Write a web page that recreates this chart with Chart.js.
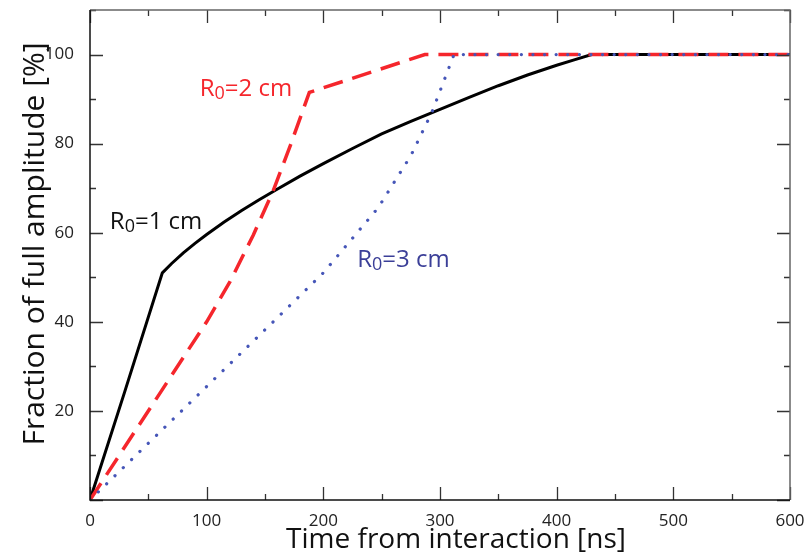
<!DOCTYPE html>
<html>
<head>
<meta charset="utf-8">
<script src="https://cdn.jsdelivr.net/npm/chart.js@4.4.0/dist/chart.umd.min.js"></script>
<style>
  html, body { margin: 0; padding: 0; background: #fff; }
  canvas { display: block; }
</style>
</head>
<body>
<canvas id="ampChart" width="811" height="555"></canvas>
<script>
// Signal rise curves for three interaction radii
const r1Time = [0, 30, 62, 70, 80, 90, 100, 115, 130, 145, 160, 180, 200, 225, 250, 275, 300, 325, 350, 375, 400, 415, 430, 600];
const r1Frac = [0, 24.5, 51, 53.1, 55.5, 57.6, 59.6, 62.4, 65, 67.4, 69.7, 72.7, 75.5, 78.9, 82.2, 85, 87.7, 90.4, 93, 95.4, 97.6, 98.8, 100, 100];

const r2Time = [0, 60, 100, 120, 140, 157, 172, 188, 287, 600];
const r2Frac = [0, 24, 40, 49, 59.5, 69.4, 79.8, 91.5, 100, 100];

const r3Time = [0, 157, 200, 247, 275, 293, 312, 600];
const r3Frac = [0, 40, 51, 65.6, 77.3, 87, 100, 100];

const xTickLabels = [0, 100, 200, 300, 400, 500, 600];
const yTickLabels = [20, 40, 60, 80, 100];

const xTitle = 'Time from interaction [ns]';
const yTitle = 'Fraction of full amplitude [%]';

// curve labels: [text, subscript, rest, x, y, colour]
const curveLabels = [
    ['R', '0', '=1 cm', 17, 62.4, '#111111'],
    ['R', '0', '=2 cm', 94, 92.3, '#f5262c'],
    ['R', '0', '=3 cm', 229, 53.8, '#3b3f98']
];

function toPoints(xs, ys) {
    return xs.map((x, i) => ({ x: x, y: ys[i] }));
}

const FONT = '"Open Sans", "DejaVu Sans", sans-serif';

// frame, inward ticks, axis titles and curve labels
const framePlugin = {
    id: 'frame',
    afterDraw(chart) {
        const ctx = chart.ctx;
        const xs = chart.scales.x;
        const ys = chart.scales.y;
        const a = chart.chartArea;
        ctx.save();

        ctx.strokeStyle = '#333';
        ctx.lineWidth = 1.3;
        // x ticks, bottom and top
        for (let v = 0; v <= 600; v += 50) {
            const px = Math.round(xs.getPixelForValue(v)) + 0.5;
            const len = v % 100 === 0 ? 13 : 6;
            ctx.beginPath();
            ctx.moveTo(px, a.bottom);
            ctx.lineTo(px, a.bottom - len);
            ctx.moveTo(px, a.top);
            ctx.lineTo(px, a.top + len);
            ctx.stroke();
        }
        // y ticks, left and right
        for (let v = 0; v <= 110; v += 10) {
            const py = Math.round(ys.getPixelForValue(v)) + 0.5;
            const len = v % 20 === 0 ? 13 : 6;
            ctx.beginPath();
            ctx.moveTo(a.left, py);
            ctx.lineTo(a.left + len, py);
            ctx.moveTo(a.right, py);
            ctx.lineTo(a.right - len, py);
            ctx.stroke();
        }

        // frame
        ctx.lineWidth = 1.5;
        ctx.strokeStyle = '#666';
        ctx.beginPath();
        ctx.moveTo(a.left, a.top);
        ctx.lineTo(a.right, a.top);
        ctx.lineTo(a.right, a.bottom);
        ctx.stroke();
        ctx.strokeStyle = '#111';
        ctx.beginPath();
        ctx.moveTo(a.left, a.top);
        ctx.lineTo(a.left, a.bottom);
        ctx.lineTo(a.right, a.bottom);
        ctx.stroke();

        // axis titles
        ctx.fillStyle = '#111';
        ctx.textAlign = 'center';
        ctx.textBaseline = 'middle';
        ctx.font = '28px ' + FONT;
        ctx.fillText(xTitle, a.left + 366, a.bottom + 40);
        ctx.save();
        ctx.translate(35, a.top + 234);
        ctx.rotate(-Math.PI / 2);
        ctx.font = '30px ' + FONT;
        ctx.fillText(yTitle, 0, 0);
        ctx.restore();

        // curve labels with subscript zero
        ctx.textAlign = 'left';
        curveLabels.forEach(l => {
            let px = xs.getPixelForValue(l[3]);
            const py = ys.getPixelForValue(l[4]);
            ctx.fillStyle = l[5];
            ctx.font = '24px ' + FONT;
            ctx.fillText(l[0], px, py);
            px += ctx.measureText(l[0]).width;
            ctx.font = '18px ' + FONT;
            ctx.fillText(l[1], px, py + 5);
            px += ctx.measureText(l[1]).width;
            ctx.font = '24px ' + FONT;
            ctx.fillText(l[2], px, py);
        });
        ctx.restore();
    }
};

function initChart() {
    const canvas = document.getElementById('ampChart');
    new Chart(canvas, {
        type: 'line',
        data: {
            datasets: [
                {
                    label: 'R0=3 cm',
                    data: toPoints(r3Time, r3Frac),
                    borderColor: '#4656b8',
                    borderWidth: 3.2,
                    borderDash: [0.1, 11.5],
                    borderCapStyle: 'round',
                    pointRadius: 0,
                    tension: 0,
                    order: 1
                },
                {
                    label: 'R0=2 cm',
                    data: toPoints(r2Time, r2Frac),
                    borderColor: '#f5262c',
                    borderWidth: 3.5,
                    borderDash: [20, 10],
                    pointRadius: 0,
                    tension: 0,
                    order: 2
                },
                {
                    label: 'R0=1 cm',
                    data: toPoints(r1Time, r1Frac),
                    borderColor: '#000000',
                    borderWidth: 3,
                    pointRadius: 0,
                    tension: 0,
                    order: 3
                }
            ]
        },
        options: {
            responsive: false,
            animation: false,
            layout: { padding: { top: 10, right: 21, left: 0, bottom: 0 } },
            plugins: {
                legend: { display: false },
                tooltip: { enabled: false }
            },
            scales: {
                x: {
                    type: 'linear',
                    min: 0,
                    max: 600,
                    grid: { display: false },
                    border: { display: false },
                    afterFit: s => {
                        s.height = 55;
                        s.paddingLeft = 0;
                        s.paddingRight = 0;
                    },
                    afterBuildTicks: s => { s.ticks = xTickLabels.map(v => ({ value: v })); },
                    ticks: {
                        padding: 3,
                        maxRotation: 0,
                        color: '#222',
                        font: { family: FONT, size: 17 }
                    }
                },
                y: {
                    type: 'linear',
                    min: 0,
                    max: 110,
                    grid: { display: false },
                    border: { display: false },
                    afterFit: s => {
                        s.width = 90;
                        s.paddingTop = 0;
                        s.paddingBottom = 0;
                    },
                    afterBuildTicks: s => { s.ticks = yTickLabels.map(v => ({ value: v })); },
                    ticks: {
                        padding: 8,
                        color: '#222',
                        font: { family: FONT, size: 17 }
                    }
                }
            }
        },
        plugins: [framePlugin]
    });
}

document.addEventListener('DOMContentLoaded', initChart);
</script>
</body>
</html>
